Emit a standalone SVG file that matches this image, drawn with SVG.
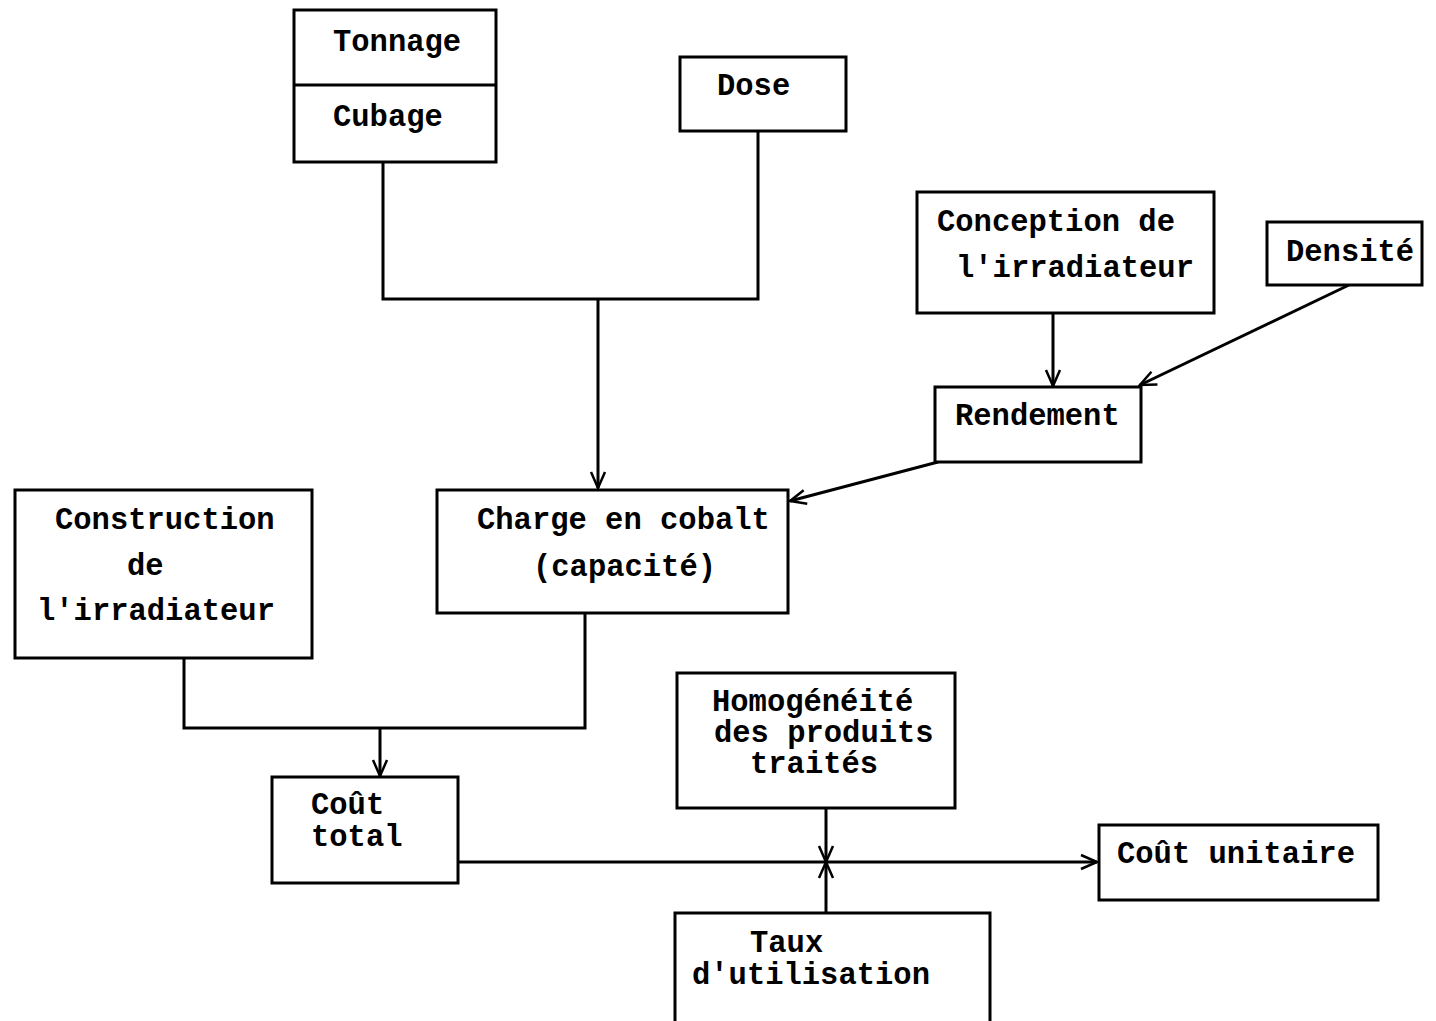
<svg xmlns="http://www.w3.org/2000/svg" width="1436" height="1021" viewBox="0 0 1436 1021">
<defs>
<marker id="arr" viewBox="0 0 20 20" refX="18" refY="10" markerWidth="20" markerHeight="20" markerUnits="userSpaceOnUse" orient="auto">
<path d="M2,3 L18,10 L2,17" fill="none" stroke="#000" stroke-width="2.5"/>
</marker>
<style>
.box{fill:#fff;stroke:#000;stroke-width:3}
.ln{fill:none;stroke:#000;stroke-width:3}
.t{font-family:"Liberation Mono","DejaVu Sans Mono",monospace;font-size:30.5px;font-weight:bold;fill:#000}
</style>
</defs>
<rect width="1436" height="1021" fill="#fff"/>
<g id="connectors">
<polyline class="ln" points="383,162 383,299 758,299 758,131"/>
<line class="ln" x1="598" y1="299" x2="598" y2="488" marker-end="url(#arr)"/>
<line class="ln" x1="1053" y1="313" x2="1053" y2="386" marker-end="url(#arr)"/>
<line class="ln" x1="1349" y1="285" x2="1140" y2="385" marker-end="url(#arr)"/>
<line class="ln" x1="938" y1="462" x2="790" y2="501" marker-end="url(#arr)"/>
<polyline class="ln" points="184,658 184,728 585,728 585,613"/>
<line class="ln" x1="380" y1="728" x2="380" y2="776" marker-end="url(#arr)"/>
<line class="ln" x1="458" y1="862" x2="1097" y2="862" marker-end="url(#arr)"/>
<line class="ln" x1="826" y1="808" x2="826" y2="862" marker-end="url(#arr)"/>
<line class="ln" x1="826" y1="913" x2="826" y2="862" marker-end="url(#arr)"/>
</g>
<g id="tonnage-cubage">
<rect class="box" x="294" y="10" width="202" height="152"/>
<line class="ln" x1="294" y1="85" x2="496" y2="85"/>
<text class="t" x="333" y="51">Tonnage</text>
<text class="t" x="333" y="126">Cubage</text>
</g>
<g id="dose">
<rect class="box" x="680" y="57" width="166" height="74"/>
<text class="t" x="717" y="95">Dose</text>
</g>
<g id="conception">
<rect class="box" x="917" y="192" width="297" height="121"/>
<text class="t" x="937" y="231">Conception de</text>
<text class="t" x="956" y="277">l'irradiateur</text>
</g>
<g id="densite">
<rect class="box" x="1267" y="222" width="155" height="63"/>
<text class="t" x="1286" y="261">Densité</text>
</g>
<g id="rendement">
<rect class="box" x="935" y="387" width="206" height="75"/>
<text class="t" x="955" y="425">Rendement</text>
</g>
<g id="construction">
<rect class="box" x="15" y="490" width="297" height="168"/>
<text class="t" x="55" y="529">Construction</text>
<text class="t" x="127" y="575">de</text>
<text class="t" x="37" y="620">l'irradiateur</text>
</g>
<g id="charge">
<rect class="box" x="437" y="490" width="351" height="123"/>
<text class="t" x="477" y="529">Charge en cobalt</text>
<text class="t" x="533" y="576">(capacité)</text>
</g>
<g id="cout-total">
<rect class="box" x="272" y="777" width="186" height="106"/>
<text class="t" x="311" y="814">Coût</text>
<text class="t" x="311" y="846">total</text>
</g>
<g id="homogeneite">
<rect class="box" x="677" y="673" width="278" height="135"/>
<text class="t" x="712" y="711">Homogénéité</text>
<text class="t" x="714" y="742">des produits</text>
<text class="t" x="750" y="773">traités</text>
</g>
<g id="taux">
<rect class="box" x="675" y="913" width="315" height="112"/>
<text class="t" x="750" y="952">Taux</text>
<text class="t" x="692" y="984">d'utilisation</text>
</g>
<g id="cout-unitaire">
<rect class="box" x="1099" y="825" width="279" height="75"/>
<text class="t" x="1117" y="863">Coût unitaire</text>
</g>
</svg>
